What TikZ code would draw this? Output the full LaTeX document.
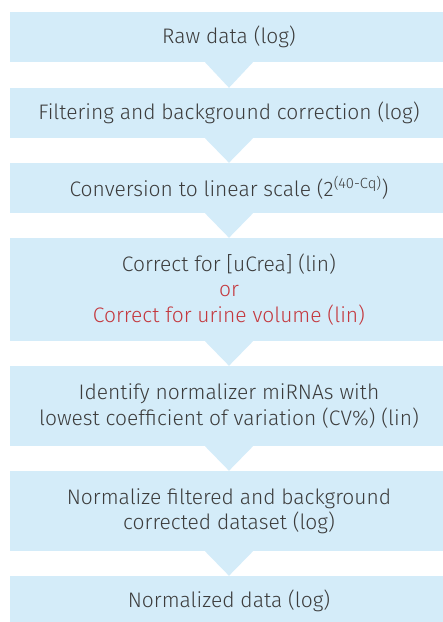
\documentclass[tikz,border=0pt]{standalone}
\usepackage{fontspec}
\setmainfont{Fira Sans Light}
\definecolor{boxblue}{RGB}{212,236,249}
\definecolor{txtgray}{RGB}{60,60,60}
\definecolor{txtred}{RGB}{196,56,62}
\begin{document}
\begin{tikzpicture}[x=1pt,y=-1pt,
  stepbox/.style={fill=boxblue, minimum width=438pt, inner sep=0pt, align=center,
    text=txtgray, font=\fontsize{21}{25.5}\selectfont},
  arrowtri/.style={fill=boxblue}]
\useasboundingbox (0,0) rectangle (443,622);
\node[stepbox, minimum height=50pt] (b1) at (229,37) {Raw data (log)};
\node[stepbox, minimum height=50pt] (b2) at (229,113) {Filtering and background correction (log)};
\node[stepbox, minimum height=50pt] (b3) at (229,188) {Conversion to linear scale (2\textsuperscript{(40-Cq)})};
\node[stepbox, minimum height=103pt] (b4) at (229,289.5) {Correct for [uCrea] (lin)\\\textcolor{txtred}{or}\\\textcolor{txtred}{Correct for urine volume (lin)}};
\node[stepbox, minimum height=80pt] (b5) at (229,406) {Identify normalizer miRNAs with\\lowest coefficient of variation (CV\%) (lin)};
\node[stepbox, minimum height=80pt] (b6) at (229,511) {Normalize filtered and background\\corrected dataset (log)};
\node[stepbox, minimum height=50pt] (b7) at (229,601) {Normalized data (log)};
\foreach \a/\b in {b1/b2,b2/b3,b3/b4,b4/b5,b5/b6,b6/b7}{
  \fill[arrowtri] ([xshift=-24pt]\a.south) -- ([xshift=24pt]\a.south) -- (\b.north) -- cycle;
}
\end{tikzpicture}
\end{document}
